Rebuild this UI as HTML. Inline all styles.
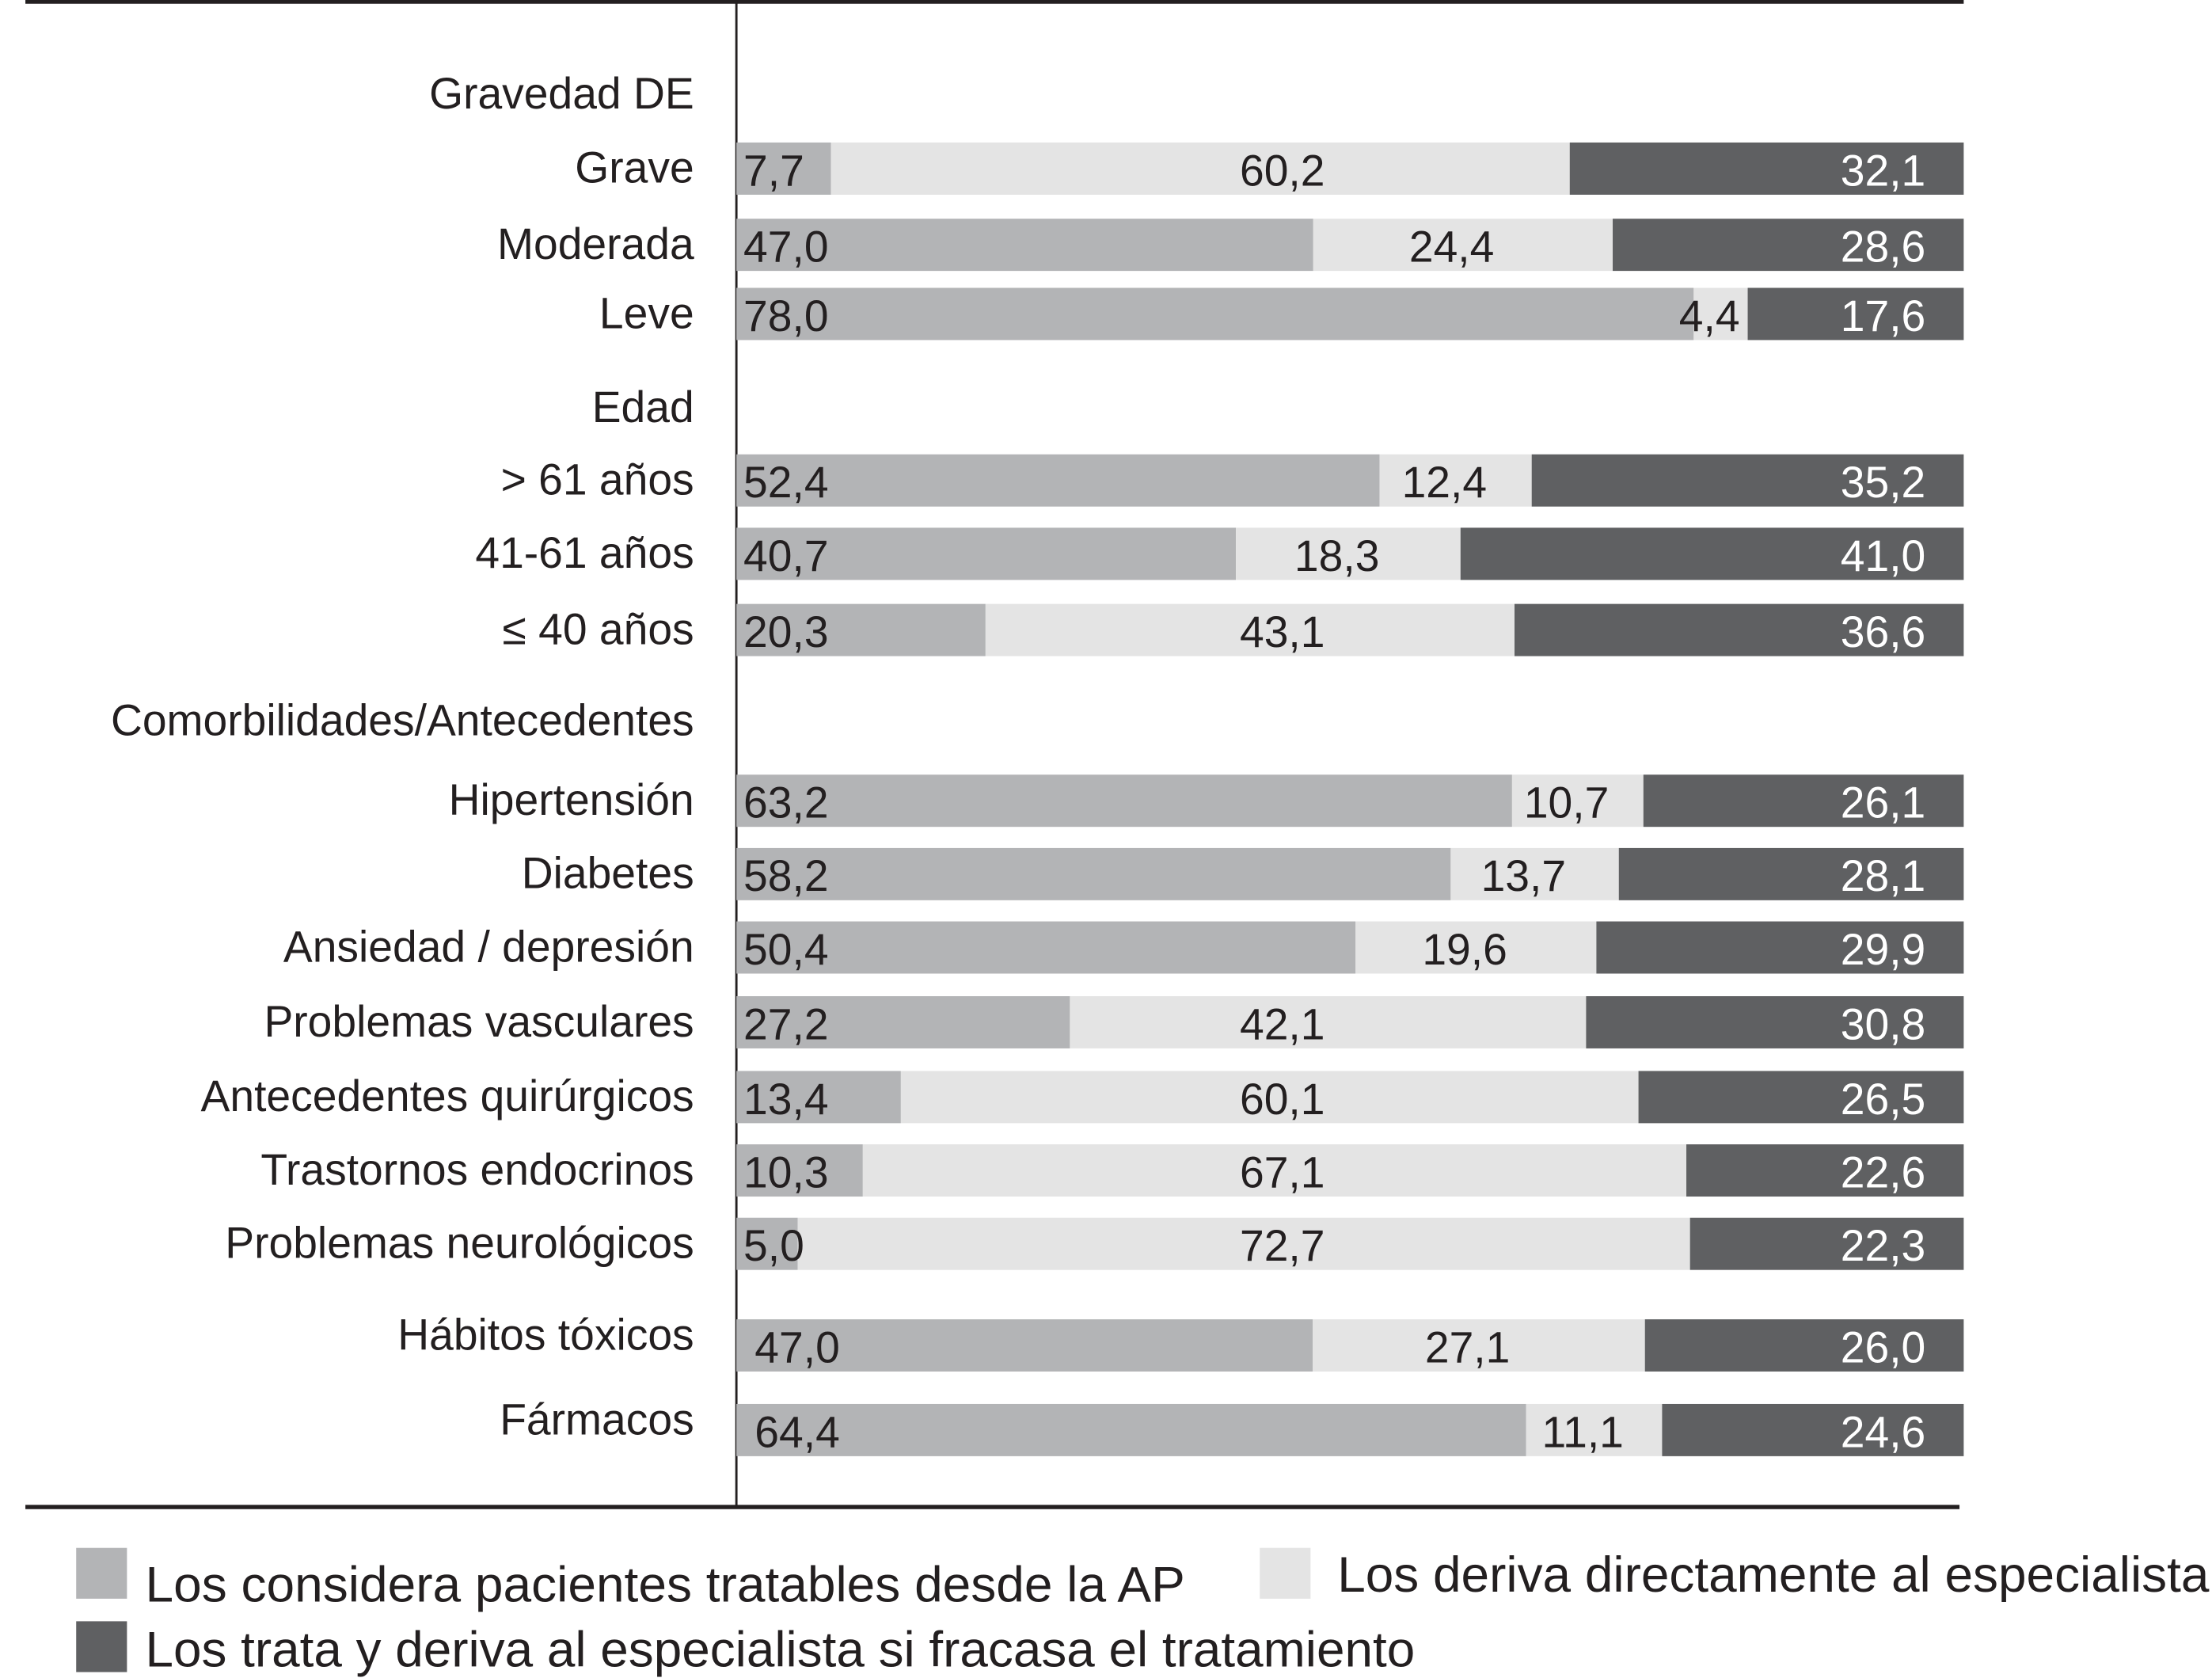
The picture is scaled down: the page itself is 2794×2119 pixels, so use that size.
<!DOCTYPE html>
<html><head><meta charset="utf-8"><style>
html,body{margin:0;padding:0;background:#fff;}
svg{display:block;font-family:"Liberation Sans",Arial,sans-serif;}
</style></head><body>
<svg id="chart" width="2794" height="2119" viewBox="0 0 1568 1189.2" preserveAspectRatio="none" xmlns="http://www.w3.org/2000/svg">
<rect x="0" y="0" width="1568" height="1190" fill="#fff"/>
<line x1="18" y1="1.2" x2="1392" y2="1.2" stroke="#231f20" stroke-width="3"/>
<line x1="522" y1="0" x2="522" y2="1068" stroke="#231f20" stroke-width="1.6"/>
<line x1="18" y1="1068" x2="1389" y2="1068" stroke="#231f20" stroke-width="3"/>
<g id="bars"></g>
<g id="legend">
  <rect x="54" y="1097" width="36" height="36" fill="#b3b4b6"/>
  <text x="103" y="1135" font-size="35.5" fill="#231f20" textLength="737" lengthAdjust="spacingAndGlyphs">Los considera pacientes tratables desde la AP</text>
  <rect x="893" y="1097" width="36" height="36" fill="#e4e4e4"/>
  <text x="948" y="1128" font-size="35.5" fill="#231f20" textLength="618" lengthAdjust="spacingAndGlyphs">Los deriva directamente al especialista</text>
  <rect x="54" y="1149" width="36" height="36" fill="#5f6062"/>
  <text x="103" y="1181" font-size="35.5" fill="#231f20" textLength="900" lengthAdjust="spacingAndGlyphs">Los trata y deriva al especialista si fracasa el tratamiento</text>
</g>
</svg>
<script>
const categories = ["Grave","Moderada","Leve","> 61 años","41-61 años","≤ 40 años","Hipertensión","Diabetes","Ansiedad / depresión","Problemas vasculares","Antecedentes quirúrgicos","Trastornos endocrinos","Problemas neurológicos","Hábitos tóxicos","Fármacos"];
const seriesAP = [7.7,47.0,78.0,52.4,40.7,20.3,63.2,58.2,50.4,27.2,13.4,10.3,5.0,47.0,64.4];
const seriesDeriva = [60.2,24.4,4.4,12.4,18.3,43.1,10.7,13.7,19.6,42.1,60.1,67.1,72.7,27.1,11.1];
const seriesTrata = [32.1,28.6,17.6,35.2,41.0,36.6,26.1,28.1,29.9,30.8,26.5,22.6,22.3,26.0,24.6];
const groupHeaders = ["Gravedad DE","Edad","Comorbilidades/Antecedentes"];

const NS="http://www.w3.org/2000/svg";
const X0=522, X1=1392, BH=37;
const rowTops=[101,155,204,322,374,428,549,601,653,706,759,811,863,935,995];
const headerY=[77,299,521];
function xs(v){return X0+(X1-X0)*v/100;}
function fmt(v){return v.toFixed(1).replace('.',',');}
const g=document.getElementById('bars');
function mk(tag,attrs,txt){const e=document.createElementNS(NS,tag);for(const k in attrs)e.setAttribute(k,attrs[k]);if(txt!==undefined)e.textContent=txt;g.appendChild(e);return e;}

groupHeaders.forEach((h,i)=>{
  const t=mk('text',{x:492,y:headerY[i],'text-anchor':'end','font-size':31,fill:'#231f20'},h);
  
  
});

categories.forEach((c,i)=>{
  const y=rowTops[i], cy=y+BH/2;
  const a=seriesAP[i], d=seriesDeriva[i], t=seriesTrata[i];
  const total=a+d+t;
  const a1=a/total*100, d1=(a+d)/total*100;
  const ly = i>=13 ? cy+3 : cy+10;
  const lab=mk('text',{x:492,y:ly,'text-anchor':'end','font-size':31,fill:'#231f20'},c);
  
  
  const r1=mk('rect',{x:xs(0),y:y,width:xs(a1)-xs(0),height:BH,fill:'#b3b4b6'});
  
  
  const r2=mk('rect',{x:xs(a1),y:y,width:xs(d1)-xs(a1),height:BH,fill:'#e4e4e4'});
  
  
  const r3=mk('rect',{x:xs(d1),y:y,width:xs(100)-xs(d1),height:BH,fill:'#5f6062'});
  
  
  const off = i>=13 ? 13 : 5;
  const v1=mk('text',{x:X0+off,y:cy+12,'font-size':31,fill:'#231f20'},fmt(a));
  
  
  const w=xs(d1)-xs(a1);
  const cx = w>300 ? 909 : (xs(a1)+xs(d1))/2 - 8;
  const v2=mk('text',{x:cx,y:cy+12,'text-anchor':'middle','font-size':31,fill:'#231f20'},fmt(d));
  
  
  const v3=mk('text',{x:1365,y:cy+12,'text-anchor':'end','font-size':31,fill:'#ffffff'},fmt(t));
  
  
});
</script>
</body></html>
